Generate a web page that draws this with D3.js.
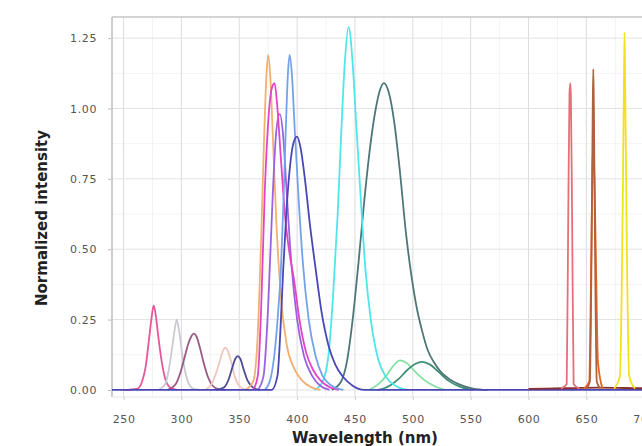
<!DOCTYPE html>
<html>
<head>
<meta charset="utf-8">
<script src="https://cdn.jsdelivr.net/npm/d3@7"></script>
<style>
  body { margin: 0; background: #fff; }
  svg { display: block; }
</style>
</head>
<body>
<div id="chart"></div>
<script>
// Data: [wavelength (nm), normalized intensity] ----------------------------------------------------------------------
const peak276 = [[250, 0], [262, 0.005], [266, 0.03], [269, 0.08], [272, 0.18], [274, 0.25], [276, 0.30], [278, 0.26],
  [280, 0.19], [283, 0.10], [286, 0.04], [290, 0.01], [296, 0]];
const peak296 = [[280, 0], [286, 0.02], [289, 0.07], [292, 0.15], [294, 0.21], [296, 0.25], [298, 0.21], [300, 0.15],
  [303, 0.07], [306, 0.025], [310, 0.005], [316, 0]];
const peak310 = [[288, 0], [295, 0.02], [299, 0.06], [303, 0.12], [306, 0.165], [308.5, 0.19], [310.5, 0.20],
  [313, 0.19], [316, 0.15], [319, 0.10], [323, 0.045], [327, 0.015], [332, 0.003], [338, 0]];
const peak338 = [[320, 0], [326, 0.02], [330, 0.06], [333, 0.10], [336, 0.14], [338, 0.15], [340, 0.14], [343, 0.10],
  [346, 0.05], [350, 0.015], [356, 0]];
const peak348 = [[330, 0], [337, 0.01], [341, 0.04], [344, 0.08], [346.5, 0.11], [348.5, 0.12], [351, 0.11],
  [354, 0.07], [357, 0.035], [361, 0.012], [367, 0]];
const peak375 = [[355, 0], [362, 0.03], [366, 0.2], [369, 0.55], [371.5, 0.9], [373.5, 1.12], [375, 1.19], [377, 1.10],
  [379, 0.90], [382, 0.6], [386, 0.33], [391, 0.16], [397, 0.08], [404, 0.035], [412, 0.01], [420, 0]];
const peak385 = [[366, 0], [371, 0.05], [375, 0.3], [379, 0.7], [382, 0.92], [385, 0.98], [388, 0.9], [391, 0.7],
  [395, 0.45], [400, 0.25], [406, 0.12], [413, 0.05], [420, 0.015], [428, 0]];
const peak380 = [[362, 0], [366, 0.05], [369, 0.3], [372, 0.7], [375, 0.95], [378, 1.07], [380.5, 1.09], [383, 1.0],
  [386, 0.82], [390, 0.6], [394, 0.47], [397, 0.40], [402, 0.25], [408, 0.13], [414, 0.07], [420, 0.035], [428, 0.01],
  [436, 0]];
const peak393 = [[372, 0], [377, 0.04], [381, 0.15], [384, 0.3], [386, 0.43], [388, 0.65], [390, 0.9], [392, 1.12],
  [393.5, 1.19], [395.5, 1.12], [398, 0.92], [401, 0.7], [405, 0.45], [410, 0.25], [416, 0.12], [422, 0.05],
  [430, 0.015], [440, 0]];
const peak444 = [[415, 0], [422, 0.03], [427, 0.12], [431, 0.33], [435, 0.62], [438, 0.9], [441, 1.15], [444.5, 1.29],
  [448, 1.16], [451, 0.95], [455, 0.68], [459, 0.43], [464, 0.24], [470, 0.11], [477, 0.045], [485, 0.015], [495, 0]];
const peak475 = [[430, 0], [438, 0.03], [443, 0.1], [448, 0.25], [453, 0.45], [458, 0.67], [463, 0.86], [468, 1.0],
  [472, 1.07], [475, 1.09], [479, 1.06], [484, 0.95], [489, 0.77], [494, 0.56], [499, 0.40], [503, 0.30], [508, 0.21],
  [513, 0.14], [518, 0.10], [524, 0.065], [531, 0.04], [540, 0.02], [552, 0.005], [565, 0]];
const peak489 = [[462, 0], [470, 0.02], [477, 0.05], [483, 0.085], [489, 0.105], [495, 0.095], [502, 0.065],
  [510, 0.035], [518, 0.015], [528, 0]];
const peak508 = [[470, 0], [480, 0.015], [488, 0.04], [495, 0.07], [502, 0.092], [508, 0.10], [515, 0.09],
  [522, 0.065], [530, 0.035], [540, 0.013], [552, 0]];
const peak400 = [[240, 0], [378, 0], [383, 0.05], [386, 0.25], [388, 0.43], [391, 0.65], [394, 0.8], [397, 0.88],
  [400, 0.90], [403, 0.86], [407, 0.74], [411, 0.59], [416, 0.43], [421, 0.28], [427, 0.16], [433, 0.09], [440, 0.045],
  [448, 0.015], [458, 0], [760, 0]];
const redBase = [[600, 0.004], [630, 0.006], [660, 0.008], [700, 0.006], [760, 0.005]];
const peak636 = [[628, 0.005], [633, 0.02], [634.3, 0.6], [635.4, 1.05], [636, 1.09], [636.6, 1.05], [637.7, 0.6],
  [639, 0.02], [644, 0.005]];
const peak656b = [[648, 0.005], [652.5, 0.03], [654, 0.4], [655.3, 0.8], [656, 0.87], [657, 0.75], [658.5, 0.4],
  [660, 0.1], [664, 0.005]];
const peak656a = [[650, 0.005], [653, 0.03], [654.5, 0.5], [655.5, 1.0], [656, 1.14], [656.5, 1.0], [657.5, 0.5],
  [659, 0.03], [662, 0.005]];
const peak683 = [[674, 0.005], [679, 0.05], [681, 0.5], [682.5, 1.1], [683, 1.27], [683.5, 1.1], [685, 0.5],
  [687, 0.05], [692, 0.005]];

const seriesList = [peak276, peak296, peak310, peak338, peak348, peak489, peak508, peak475, peak444, peak375, peak385,
  peak380, peak393, peak400, redBase, peak636, peak656b, peak656a, peak683];
const seriesColors = ["#e4579c", "#c9cbd2", "#9b5a86", "#f0c6be", "#4e4a98", "#86e2a4", "#3f8f72", "#4f7676",
  "#4ee6ea", "#f2b070", "#9a62e2", "#e244c6", "#74a2ea", "#4a46b6", "#8a3030", "#e4707a", "#e8661e", "#b0603c",
  "#f2e21c"];

const xTicks = [250, 300, 350, 400, 450, 500, 550, 600, 650, 700];
const yTicks = [0, 0.25, 0.5, 0.75, 1.0, 1.25];

// Canvas --------------------------------------------------------------------------------------------------------------
const canvasWidth = 642;
const canvasHeight = 446;

const plotLeft = 112;
const plotTop = 17;
const plotBottom = 397;

const svg = d3.select("#chart")
  .append("svg")
  .attr("width", canvasWidth)
  .attr("height", canvasHeight);

const xScale = d3.scaleLinear()
  .domain([240, 760])
  .range([plotLeft, plotLeft + 520 * 1.157]);
const yScale = d3.scaleLinear()
  .domain([-0.025, 1.325])
  .range([plotBottom, plotTop]);

// Grid ----------------------------------------------------------------------------------------------------------------
const gridGroup = svg.append("g");

gridGroup.selectAll("line.minor-x")
  .data(d3.range(275, 760, 50))
  .join("line")
  .attr("class", "minor-x")
  .attr("x1", d => xScale(d))
  .attr("x2", d => xScale(d))
  .attr("y1", plotTop)
  .attr("y2", plotBottom)
  .style("stroke", "#f3f3f3");

gridGroup.selectAll("line.minor-y")
  .data(d3.range(0.125, 1.3, 0.25))
  .join("line")
  .attr("class", "minor-y")
  .attr("x1", plotLeft)
  .attr("x2", canvasWidth)
  .attr("y1", d => yScale(d))
  .attr("y2", d => yScale(d))
  .style("stroke", "#f3f3f3");

gridGroup.selectAll("line.major-x")
  .data(xTicks)
  .join("line")
  .attr("class", "major-x")
  .attr("x1", d => xScale(d))
  .attr("x2", d => xScale(d))
  .attr("y1", plotTop)
  .attr("y2", plotBottom)
  .style("stroke", "#dcdcdc");

gridGroup.selectAll("line.major-y")
  .data(yTicks)
  .join("line")
  .attr("class", "major-y")
  .attr("x1", plotLeft)
  .attr("x2", canvasWidth)
  .attr("y1", d => yScale(d))
  .attr("y2", d => yScale(d))
  .style("stroke", "#e2e2e2");

// Frame
svg.append("line")
  .attr("x1", plotLeft).attr("x2", canvasWidth)
  .attr("y1", plotTop).attr("y2", plotTop)
  .style("stroke", "#c4c4c4")
  .style("stroke-width", 1.5);
svg.append("line")
  .attr("x1", plotLeft).attr("x2", plotLeft)
  .attr("y1", plotTop).attr("y2", plotBottom)
  .style("stroke", "#bcbcbc")
  .style("stroke-width", 1.5);
svg.append("line")
  .attr("x1", plotLeft).attr("x2", canvasWidth)
  .attr("y1", plotBottom).attr("y2", plotBottom)
  .style("stroke", "#e6e6e6");

// Axes ----------------------------------------------------------------------------------------------------------------
const tickFont = "DejaVu Sans, Verdana, sans-serif";

const yAxis = svg.append("g")
  .attr("transform", "translate(" + (plotLeft - 1) + ",0)")
  .call(d3.axisLeft(yScale).tickValues(yTicks).tickFormat(d3.format(".2f")).tickSize(3).tickPadding(11));
yAxis.select(".domain").remove();
yAxis.selectAll("line").style("stroke", "#bbb");
yAxis.selectAll("text")
  .style("font-family", tickFont)
  .style("font-size", "11px")
  .style("letter-spacing", "0.6px")
  .style("fill", "#555");

const xAxis = svg.append("g")
  .attr("transform", "translate(0," + plotBottom + ")")
  .call(d3.axisBottom(xScale).tickValues(xTicks).tickFormat(d3.format("d")).tickSize(3).tickPadding(15));
xAxis.select(".domain").remove();
xAxis.selectAll("line").style("stroke", "#ccc");
xAxis.selectAll("text")
  .style("font-family", tickFont)
  .style("font-size", "11px")
  .style("letter-spacing", "0.6px")
  .style("fill", "#555");

svg.append("text")
  .text("Normalized intensity")
  .attr("transform", "translate(47," + 218 + ") rotate(-90)")
  .style("text-anchor", "middle")
  .style("font-family", tickFont)
  .style("font-weight", "bold")
  .style("font-size", "15px")
  .style("fill", "#222");

svg.append("text")
  .text("Wavelength (nm)")
  .attr("x", 365)
  .attr("y", 443)
  .style("text-anchor", "middle")
  .style("font-family", tickFont)
  .style("font-weight", "bold")
  .style("font-size", "15px")
  .style("fill", "#222");

// Spectra -------------------------------------------------------------------------------------------------------------
const line = d3.line()
  .x(d => xScale(d[0]))
  .y(d => yScale(d[1]))
  .curve(d3.curveMonotoneX);

svg.append("g")
  .selectAll("path")
  .data(seriesList)
  .join("path")
  .attr("d", line)
  .style("fill", "none")
  .style("stroke", (d, i) => seriesColors[i])
  .style("stroke-width", 1.8)
  .style("stroke-linejoin", "round");
</script>
</body>
</html>
